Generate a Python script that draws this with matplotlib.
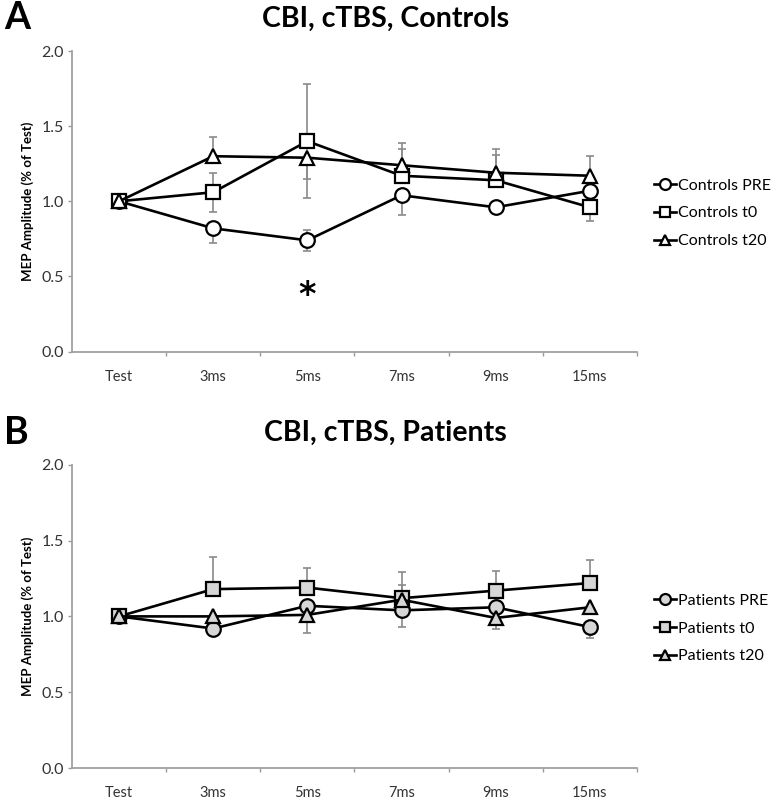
import numpy as np
import matplotlib
matplotlib.use("Agg")
import matplotlib.pyplot as plt

plt.rcParams['font.family'] = ['Lato', 'DejaVu Sans']

# data
categories = ['Test', '3ms', '5ms', '7ms', '9ms', '15ms']

ctrl_pre = [1.0, 0.82, 0.74, 1.04, 0.96, 1.07]
ctrl_t0 = [1.0, 1.06, 1.40, 1.17, 1.14, 0.96]
ctrl_t20 = [1.0, 1.30, 1.29, 1.24, 1.19, 1.17]

ctrl_pre_lo = [0, 0.10, 0.07, 0.13, 0.04, 0]
ctrl_pre_hi = [0, 0, 0.07, 0, 0, 0]
ctrl_t0_lo = [0, 0.13, 0.38, 0, 0, 0.09]
ctrl_t0_hi = [0, 0.13, 0.38, 0.18, 0.17, 0]
ctrl_t20_lo = [0, 0, 0.14, 0, 0, 0]
ctrl_t20_hi = [0, 0.13, 0, 0.15, 0.16, 0.13]

pat_pre = [1.0, 0.92, 1.07, 1.04, 1.06, 0.93]
pat_t0 = [1.0, 1.18, 1.19, 1.12, 1.17, 1.22]
pat_t20 = [1.0, 1.00, 1.01, 1.11, 0.99, 1.06]

pat_pre_lo = [0, 0.03, 0, 0.11, 0, 0.07]
pat_pre_hi = [0, 0, 0, 0, 0, 0]
pat_t0_lo = [0, 0, 0, 0, 0, 0]
pat_t0_hi = [0, 0.21, 0.13, 0.17, 0.13, 0.15]
pat_t20_lo = [0, 0, 0.12, 0, 0.07, 0]
pat_t20_hi = [0, 0, 0, 0.10, 0, 0]

sig_cat = 2      # 5ms
sig_y = 0.37


def draw_panel(ax, series, face, title_y, title, letter):
    x = np.arange(len(categories))
    for vals, lo, hi, mk, lab in series:
        ax.errorbar(x, vals, yerr=[lo, hi], fmt='none', ecolor='#8a8a8a',
                    elinewidth=1.2, capsize=3, capthick=1.2, zorder=1)
    for vals, lo, hi, mk, lab in series:
        ax.plot(x, vals, color='black', lw=1.9, marker=mk, ms=10.5,
                mfc=face, mec='black', mew=1.6, label=lab, zorder=3)

    ax.set_xlim(-0.5, len(categories) - 0.5)
    ax.set_ylim(0, 2.0)
    ax.set_yticks(np.arange(0, 2.01, 0.5))
    ax.set_yticklabels([f'{v:.1f}' for v in np.arange(0, 2.01, 0.5)])
    ax.set_xticks(x)
    ax.set_xticklabels(categories)
    ax.set_xticks(np.arange(0.5, len(categories), 1.0), minor=True)
    ax.tick_params(axis='x', which='major', length=0, pad=13, labelsize=10.5,
                   labelcolor='#333333')
    ax.tick_params(axis='x', which='minor', length=3, color='#9a9a9a', width=1)
    ax.tick_params(axis='y', length=3, color='#9a9a9a', width=1, labelsize=11.5,
                   labelcolor='#333333', pad=3)
    for s in ['top', 'right']:
        ax.spines[s].set_visible(False)
    for s in ['left', 'bottom']:
        ax.spines[s].set_color('#a0a0a0')
        ax.spines[s].set_linewidth(1.3)
    ax.set_ylabel('MEP Amplitude (% of Test)', fontsize=9.5, fontweight='bold',
                  labelpad=5)

    ax.legend(loc='center left', bbox_to_anchor=(1.03, 0.46), frameon=False,
              fontsize=11.5, handlelength=1.4, handletextpad=0.1,
              labelspacing=0.85, borderpad=0, borderaxespad=0, markerscale=0.75)

    fig.text(0.495, title_y, title, fontsize=20.5, fontweight='bold',
             ha='center', va='center')
    fig.text(0.005, title_y, letter, fontsize=27, fontweight='bold',
             ha='left', va='center')


fig = plt.figure(figsize=(7.78, 8.0), dpi=100)
ax1 = fig.add_axes([0.0925, 0.5606, 0.7262, 0.3756])
ax2 = fig.add_axes([0.0925, 0.04, 0.7262, 0.379])

draw_panel(ax1, [
    (ctrl_pre, ctrl_pre_lo, ctrl_pre_hi, 'o', 'Controls PRE'),
    (ctrl_t0, ctrl_t0_lo, ctrl_t0_hi, 's', 'Controls t0'),
    (ctrl_t20, ctrl_t20_lo, ctrl_t20_hi, '^', 'Controls t20'),
], 'white', 0.977, 'CBI, cTBS, Controls', 'A')

draw_panel(ax2, [
    (pat_pre, pat_pre_lo, pat_pre_hi, 'o', 'Patients PRE'),
    (pat_t0, pat_t0_lo, pat_t0_hi, 's', 'Patients t0'),
    (pat_t20, pat_t20_lo, pat_t20_hi, '^', 'Patients t20'),
], '#d6d6d6', 0.459, 'CBI, cTBS, Patients', 'B')

ax1.text(sig_cat, sig_y, '*', fontsize=24, fontweight='bold', ha='center',
         va='center', family='DejaVu Sans')

fig.savefig('out.png', dpi=100)
